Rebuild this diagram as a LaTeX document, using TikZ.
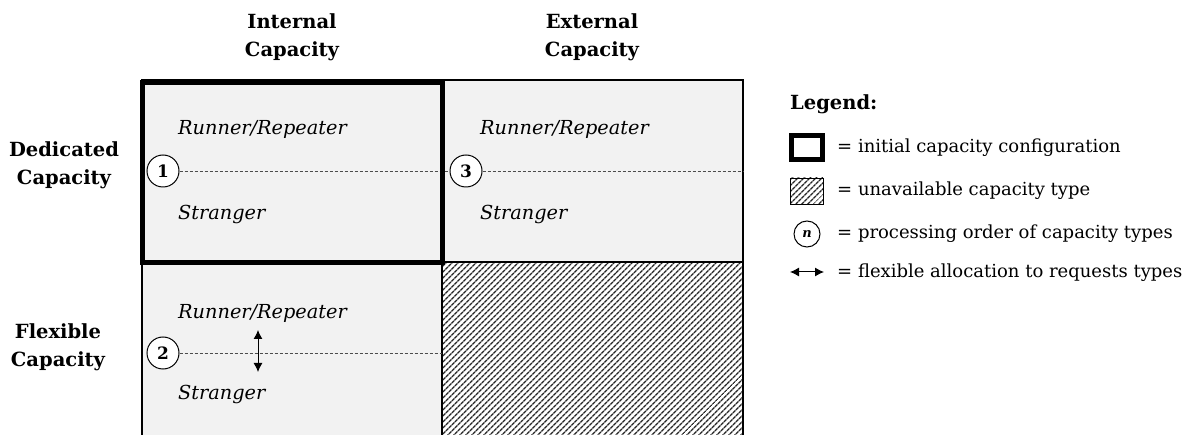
\documentclass[tikz,border=0pt]{standalone}
\usepackage{fontspec}
\setmainfont{DejaVu Serif}
\usetikzlibrary{patterns.meta,arrows.meta}
\definecolor{cellgray}{HTML}{F2F2F2}
\tikzset{
  celltext/.style={anchor=west,inner sep=0pt,font=\fontsize{19.3}{22}\selectfont\itshape},
  head/.style={align=center,inner sep=0pt,font=\fontsize{19.5}{28}\selectfont\bfseries},
  legtext/.style={anchor=west,inner sep=0pt,font=\fontsize{18}{20}\selectfont},
  numcirc/.style={circle,draw,line width=1pt,fill=white,minimum size=32pt,inner sep=0pt,font=\fontsize{17}{18}\selectfont\bfseries},
  divider/.style={dash pattern=on 3pt off 2pt,line width=0.8pt,black!70},
  grid/.style={line width=1.5pt},
  hatch/.style={pattern={Lines[angle=45,distance=4pt,line width=1.6pt]},pattern color=black!85},
  flexarrow/.style={{Latex[length=9pt,width=9pt]}-{Latex[length=9pt,width=9pt]},line width=1pt}
}
\begin{document}
\begin{tikzpicture}[x=1pt,y=-1pt]
\useasboundingbox (0,0) rectangle (1194,435);
% cells
\fill[cellgray] (142,80) rectangle (743,262);
\fill[cellgray] (142,262) rectangle (442,435);
\fill[white] (442,262) rectangle (743,435);
\fill[hatch] (442,262) rectangle (743,435);
% grid lines
\draw[grid] (142,435) -- (142,80) -- (743,80) -- (743,435);
\draw[grid] (442,80) -- (442,435);
\draw[grid] (142,262) -- (743,262);
% headers
\node[head] (hint) at (292,37) {Internal\\Capacity};
\node[head] (hext) at (592,37) {External\\Capacity};
\node[head] (hded) at (64,165) {Dedicated\\Capacity};
\node[head] (hflex) at (58,347) {Flexible\\Capacity};
% cell texts
\node[celltext] (rr1) at (178,129) {Runner/Repeater};
\node[celltext] (st1) at (178,214) {Stranger};
\node[celltext] (rr3) at (480,129) {Runner/Repeater};
\node[celltext] (st3) at (480,214) {Stranger};
\node[celltext] (rr2) at (178,313) {Runner/Repeater};
\node[celltext] (st2) at (178,394) {Stranger};
% dashed dividers and circles
\coordinate (e1) at (743,171);
\coordinate (e2) at (442,353);
\node[numcirc] (c1) at (163,171) {1};
\node[numcirc] (c3) at (466,171) {3};
\node[numcirc] (c2) at (163,353) {2};
\draw[divider] (c1.east) -- (c3.west);
\draw[divider] (c3.east) -- (e1);
\draw[divider] (c2.east) -- (e2);
% thick border
\draw[line width=5pt] (142.5,82.5) rectangle (442.5,262.5);
% flexible arrow
\coordinate (a1) at (258,330);
\coordinate (a2) at (258,372);
\draw[flexarrow] (a1) -- (a2);
% legend
\node[legtext,font=\fontsize{19.5}{22}\selectfont\bfseries] (leg) at (790,104) {Legend:};
\draw[line width=5pt,fill=white] (791.5,135.5) rectangle (822.5,159.5);
\node[legtext] (l1) at (837,148) {= initial capacity configuration};
\fill[white] (790,178) rectangle (823,204);
\fill[hatch] (790,178) rectangle (823,204);
\draw[line width=0.8pt] (790,178) rectangle (823,204);
\node[legtext] (l2) at (837,191) {= unavailable capacity type};
\node[numcirc,minimum size=26pt,font=\fontsize{13}{14}\selectfont\bfseries\itshape] (cn) at (807,234) {n};
\node[legtext] (l3) at (837,234) {= processing order of capacity types};
\coordinate (b1) at (790,272);
\coordinate (b2) at (824,272);
\draw[flexarrow] (b1) -- (b2);
\node[legtext] (l4) at (837,273) {= flexible allocation to requests types};
\end{tikzpicture}
\end{document}
